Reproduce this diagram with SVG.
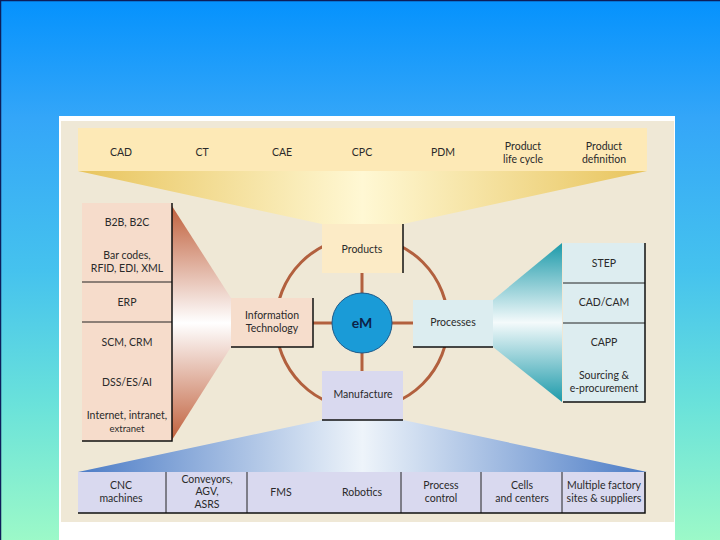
<svg xmlns="http://www.w3.org/2000/svg" width="720" height="540" viewBox="0 0 720 540">
<defs>
<linearGradient id="bg" x1="0" y1="0" x2="0" y2="1">
<stop offset="0" stop-color="#0592fd"/>
<stop offset="0.22" stop-color="#34a6f8"/>
<stop offset="0.5" stop-color="#45c2ee"/>
<stop offset="0.75" stop-color="#6ae2da"/>
<stop offset="1" stop-color="#9cf9c8"/>
</linearGradient>
<linearGradient id="gTop" x1="0" y1="0" x2="1" y2="0">
<stop offset="0" stop-color="#e8c45c"/>
<stop offset="0.5" stop-color="#fff8d4"/>
<stop offset="1" stop-color="#e8c45c"/>
</linearGradient>
<linearGradient id="gBot" x1="0" y1="0" x2="1" y2="0">
<stop offset="0" stop-color="#4c7cc6"/>
<stop offset="0.5" stop-color="#eef4fa"/>
<stop offset="1" stop-color="#4c7cc6"/>
</linearGradient>
<linearGradient id="gBotV" x1="0" y1="0" x2="0" y2="1">
<stop offset="0" stop-color="#efe8d6" stop-opacity="0.35"/>
<stop offset="1" stop-color="#efe8d6" stop-opacity="0"/>
</linearGradient>
<linearGradient id="gLeft" x1="0" y1="0" x2="0" y2="1">
<stop offset="0" stop-color="#c0603c"/>
<stop offset="0.5" stop-color="#ffffff"/>
<stop offset="1" stop-color="#c0603c"/>
</linearGradient>
<linearGradient id="gRight" x1="0" y1="0" x2="0" y2="1">
<stop offset="0" stop-color="#1c9aaa"/>
<stop offset="0.5" stop-color="#f4fafb"/>
<stop offset="1" stop-color="#1c9aaa"/>
</linearGradient>
</defs>
<style>
text{font-family:Lato,"Open Sans","Liberation Sans",sans-serif;font-size:10.5px;fill:#2a2a2a;text-anchor:middle}
.edge{stroke:#111;stroke-width:1.5;fill:none}
.div{stroke:#222;stroke-width:1;fill:none}
.ring{stroke:#b2603e;stroke-width:3;fill:none}
</style>
<rect x="0" y="0" width="720" height="540" fill="url(#bg)"/>
<path d="M0.5 540 V0.5 H720" stroke="#0c1e5a" stroke-width="1.5" fill="none"/>
<rect x="59" y="116" width="616" height="424" fill="#ffffff"/>
<rect x="61" y="121" width="613" height="401" fill="#efe8d6"/>

<!-- funnels -->
<polygon points="78,171 647,171 403,224 322,224" fill="url(#gTop)"/>
<polygon points="322,420 403,420 647,472 78,472" fill="url(#gBot)"/>
<polygon points="172,206 231,298 231,347 172,440" fill="url(#gLeft)"/>
<polygon points="562,243 562,402 493,347 493,300" fill="url(#gRight)"/>

<g id="connectors">
<circle class="ring" cx="362" cy="323" r="86"/>
<line class="ring" x1="362" y1="273" x2="362" y2="295"/>
<line class="ring" x1="362" y1="351" x2="362" y2="371"/>
<line class="ring" x1="313" y1="323" x2="334" y2="323"/>
<line class="ring" x1="390" y1="323" x2="413" y2="323"/>
</g>

<g id="top-band">
<rect x="78" y="128" width="569" height="43" fill="#fde9b6"/>
<text x="121" y="156">CAD</text>
<text x="202" y="156">CT</text>
<text x="282" y="156">CAE</text>
<text x="362" y="156">CPC</text>
<text x="443" y="156">PDM</text>
<text x="523" y="150">Product</text>
<text x="523" y="163">life cycle</text>
<text x="604" y="150">Product</text>
<text x="604" y="163">definition</text>
</g>

<g id="left-column">
<rect x="82" y="203" width="90" height="238" fill="#f6dccb"/>
<line class="div" x1="82" y1="282" x2="172" y2="282"/>
<line class="div" x1="82" y1="322" x2="172" y2="322"/>
<path class="edge" d="M172 203 V441 H82"/>
<text x="127" y="226">B2B, B2C</text>
<text x="127" y="259">Bar codes,</text>
<text x="127" y="272">RFID, EDI, XML</text>
<text x="127" y="306">ERP</text>
<text x="127" y="346">SCM, CRM</text>
<text x="127" y="386">DSS/ES/AI</text>
<text x="127" y="419">Internet, intranet,</text>
<text x="127" y="432" style="font-size:9.5px">extranet</text>
</g>

<g id="right-column">
<rect x="563" y="243" width="82" height="159" fill="#ddedf0"/>
<line class="div" x1="563" y1="283" x2="645" y2="283"/>
<line class="div" x1="563" y1="323" x2="645" y2="323"/>
<path class="edge" d="M645 243 V402 H563"/>
<text x="604" y="267">STEP</text>
<text x="604" y="306">CAD/CAM</text>
<text x="604" y="346">CAPP</text>
<text x="604" y="379">Sourcing &amp;</text>
<text x="604" y="392">e-procurement</text>
</g>

<g id="bottom-row">
<rect x="78" y="472" width="567" height="41" fill="#d9d9ef"/>
<line class="div" x1="166" y1="472" x2="166" y2="513"/>
<line class="div" x1="247" y1="472" x2="247" y2="513"/>
<line class="div" x1="401" y1="472" x2="401" y2="513"/>
<line class="div" x1="481" y1="472" x2="481" y2="513"/>
<line class="div" x1="562" y1="472" x2="562" y2="513"/>
<path class="edge" d="M645 472 V513 H78"/>
<text x="121" y="489">CNC</text>
<text x="121" y="502">machines</text>
<text x="207" y="483">Conveyors,</text>
<text x="207" y="495">AGV,</text>
<text x="207" y="508">ASRS</text>
<text x="281" y="496">FMS</text>
<text x="362" y="496">Robotics</text>
<text x="441" y="489">Process</text>
<text x="441" y="502">control</text>
<text x="522" y="489">Cells</text>
<text x="522" y="502">and centers</text>
<text x="604" y="489">Multiple factory</text>
<text x="604" y="502">sites &amp; suppliers</text>
</g>

<g id="products">
<rect x="322" y="224" width="81" height="49" fill="#fcebc6"/>
<line class="edge" x1="403" y1="224" x2="403" y2="273"/>
<text x="362" y="253">Products</text>
</g>

<g id="information-technology">
<rect x="231" y="298" width="82" height="49" fill="#f6ddcc"/>
<path class="edge" d="M313 298 V347 H231"/>
<text x="272" y="319">Information</text>
<text x="272" y="332">Technology</text>
</g>

<g id="processes">
<rect x="413" y="300" width="80" height="47" fill="#dcedf0"/>
<line class="edge" x1="413" y1="347" x2="493" y2="347"/>
<text x="453" y="326">Processes</text>
</g>

<g id="manufacture">
<rect x="322" y="371" width="81" height="49" fill="#d9d9ef"/>
<line class="edge" x1="322" y1="420" x2="403" y2="420"/>
<text x="363" y="398">Manufacture</text>
</g>

<g id="em">
<circle cx="362" cy="323" r="30" fill="#1a9bd7" stroke="#1d5a8a" stroke-width="1"/>
<text x="362" y="328" style="font-size:14px;fill:#0c2248;font-weight:bold">eM</text>
</g>
</svg>
